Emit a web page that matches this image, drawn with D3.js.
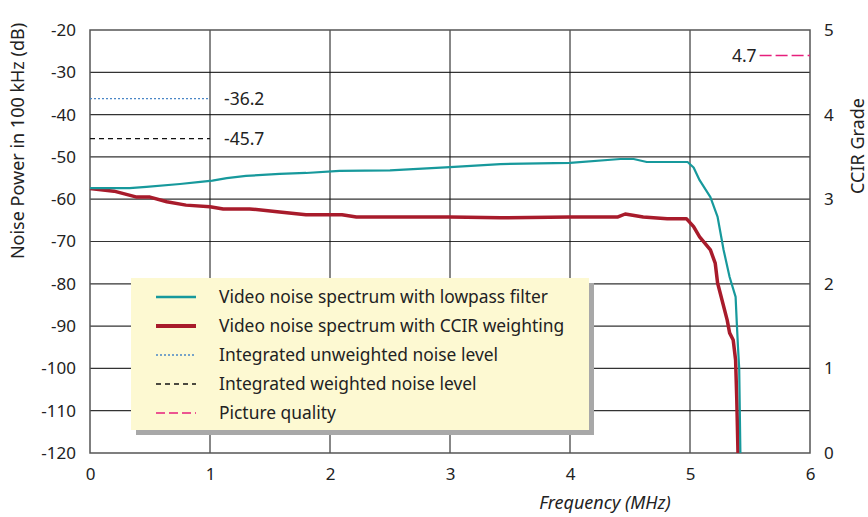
<!DOCTYPE html>
<html>
<head>
<meta charset="utf-8">
<script src="https://cdn.jsdelivr.net/npm/d3@7"></script>
<style>
  body { margin: 0; background: #fff; }
  text { font-family: "Noto Sans", sans-serif; fill: #222; }
</style>
</head>
<body>
<div id="chart"></div>
<script>
// lowpass filtered spectrum (MHz, dB)
var lowpassX = [0, 0.12, 0.33, 0.47, 0.75, 0.92, 1.02, 1.14, 1.3, 1.58, 1.8, 2.08, 2.5, 3.0, 3.42, 4.0, 4.42, 4.53, 4.64, 4.98, 5.03, 5.08, 5.17, 5.23, 5.28, 5.33, 5.38, 5.39, 5.4, 5.41, 5.42];
var lowpassY = [-57.4, -57.4, -57.4, -57.1, -56.4, -55.9, -55.6, -55.0, -54.5, -54.0, -53.8, -53.3, -53.2, -52.4, -51.7, -51.4, -50.5, -50.5, -51.2, -51.2, -52.5, -55.5, -59.5, -64.2, -72, -78.4, -83.1, -89.3, -95, -100, -120];

// CCIR weighted spectrum (MHz, dB)
var ccirX = [0, 0.2, 0.39, 0.5, 0.64, 0.8, 1.0, 1.11, 1.33, 1.58, 1.8, 2.1, 2.22, 3.0, 3.42, 4.0, 4.4, 4.46, 4.61, 4.81, 4.97, 5.03, 5.08, 5.17, 5.21, 5.23, 5.31, 5.33, 5.36, 5.38, 5.39, 5.4];
var ccirY = [-57.5, -58.1, -59.5, -59.5, -60.6, -61.4, -61.8, -62.3, -62.3, -63.0, -63.7, -63.7, -64.2, -64.2, -64.4, -64.2, -64.2, -63.5, -64.2, -64.6, -64.6, -66.5, -68.9, -72, -75.1, -79.8, -88.6, -91.6, -93.3, -98, -107.5, -120];

var unweightedLevel = "-36.2";
var weightedLevel = "-45.7";
var pictureQuality = "4.7";

var xTicks = [0, 1, 2, 3, 4, 5, 6];
var yTicks = [-20, -30, -40, -50, -60, -70, -80, -90, -100, -110, -120];
var gradeTicks = [0, 1, 2, 3, 4, 5];

var legendLabels = ["Video noise spectrum with lowpass filter", "Video noise spectrum with CCIR weighting", "Integrated unweighted noise level", "Integrated weighted noise level", "Picture quality"];

var TEAL = "#17999c", RED = "#a81b2b", BLUE = "#4a86c6", PINK = "#e61f7c";

var width = 868, height = 517;
var margin = {left: 90, right: 58, top: 30, bottom: 64};

var svg = d3.select("#chart").append("svg")
  .attr("width", width)
  .attr("height", height);

var x = d3.scaleLinear().domain([0, 6]).range([margin.left, width - margin.right]);
var y = d3.scaleLinear().domain([-120, -20]).range([height - margin.bottom, margin.top]);
var yGrade = d3.scaleLinear().domain([0, 5]).range([height - margin.bottom, margin.top]);

var plain = function(d){ return String(d); };

// grid
svg.append("g").selectAll("line")
  .data(yTicks.filter(function(d){ return d > -120 && d < -20; }))
  .enter().append("line")
    .attr("x1", x(0)).attr("x2", x(6))
    .attr("y1", function(d){ return y(d); }).attr("y2", function(d){ return y(d); })
    .attr("stroke", "#333").attr("stroke-width", 1.2);
svg.append("g").selectAll("line")
  .data(xTicks.filter(function(d){ return d > 0 && d < 6; }))
  .enter().append("line")
    .attr("x1", function(d){ return x(d); }).attr("x2", function(d){ return x(d); })
    .attr("y1", y(-20)).attr("y2", y(-120))
    .attr("stroke", "#111").attr("stroke-width", 1);

// frame
svg.append("rect")
  .attr("x", x(0)).attr("y", y(-20))
  .attr("width", x(6) - x(0)).attr("height", y(-120) - y(-20))
  .attr("fill", "none").attr("stroke", "#555").attr("stroke-width", 1.5);

// axes
var yAxis = svg.append("g")
  .attr("transform", "translate(" + x(0) + ",0)")
  .call(d3.axisLeft(y).tickValues(yTicks).tickFormat(plain).tickSize(0).tickPadding(14));
var gAxis = svg.append("g")
  .attr("transform", "translate(" + x(6) + ",0)")
  .call(d3.axisRight(yGrade).tickValues(gradeTicks).tickFormat(plain).tickSize(0).tickPadding(14));
var xAxis = svg.append("g")
  .attr("transform", "translate(0," + y(-120) + ")")
  .call(d3.axisBottom(x).tickValues(xTicks).tickFormat(plain).tickSize(0).tickPadding(15));
[yAxis, gAxis, xAxis].forEach(function(a){
  a.select(".domain").remove();
  a.selectAll("text").style("font-size", "17px").style("fill", "#222")
    .style("font-family", "'Noto Sans', sans-serif");
});

// axis titles
svg.append("text")
  .attr("transform", "translate(24,141) rotate(-90)")
  .attr("text-anchor", "middle")
  .style("font-size", "18px")
  .text("Noise Power in 100 kHz (dB)");
svg.append("text")
  .attr("transform", "translate(864,146) rotate(-90)")
  .attr("text-anchor", "middle")
  .style("font-size", "18px")
  .text("CCIR Grade");
svg.append("text")
  .attr("x", 605).attr("y", 509)
  .attr("text-anchor", "middle")
  .style("font-size", "18px").style("font-style", "italic")
  .text("Frequency (MHz)");

// integrated levels
svg.append("line")
  .attr("x1", x(0)).attr("x2", x(1))
  .attr("y1", y(+unweightedLevel)).attr("y2", y(+unweightedLevel))
  .attr("stroke", BLUE).attr("stroke-width", 1.3).attr("stroke-dasharray", "2,2");
svg.append("text")
  .attr("x", x(1) + 14).attr("y", y(+unweightedLevel)).attr("dy", "0.35em")
  .style("font-size", "17.5px").text(unweightedLevel);
svg.append("line")
  .attr("x1", x(0)).attr("x2", x(1))
  .attr("y1", y(+weightedLevel)).attr("y2", y(+weightedLevel))
  .attr("stroke", "#111").attr("stroke-width", 1.3).attr("stroke-dasharray", "5,4");
svg.append("text")
  .attr("x", x(1) + 14).attr("y", y(+weightedLevel)).attr("dy", "0.35em")
  .style("font-size", "17.5px").text(weightedLevel);

// picture quality
svg.append("line")
  .attr("x1", x(5.58)).attr("x2", x(6))
  .attr("y1", yGrade(+pictureQuality)).attr("y2", yGrade(+pictureQuality))
  .attr("stroke", PINK).attr("stroke-width", 1.5).attr("stroke-dasharray", "12,4");
svg.append("text")
  .attr("x", x(5.58) - 3).attr("y", yGrade(+pictureQuality)).attr("dy", "0.35em")
  .attr("text-anchor", "end")
  .style("font-size", "17.5px").text(pictureQuality);

// spectra
var line = d3.line()
  .x(function(d){ return x(d[0]); })
  .y(function(d){ return y(d[1]); });

svg.append("path")
  .datum(d3.zip(ccirX, ccirY))
  .attr("d", line)
  .attr("fill", "none").attr("stroke", RED).attr("stroke-width", 3.5)
  .attr("stroke-linejoin", "round");
svg.append("path")
  .datum(d3.zip(lowpassX, lowpassY))
  .attr("d", line)
  .attr("fill", "none").attr("stroke", TEAL).attr("stroke-width", 2.2)
  .attr("stroke-linejoin", "round");

// legend
var legend = svg.append("g").attr("transform", "translate(131,278)");
legend.append("rect")
  .attr("x", 5).attr("y", 5).attr("width", 458).attr("height", 152)
  .attr("fill", "#a8a8a8");
legend.append("rect")
  .attr("width", 458).attr("height", 152)
  .attr("fill", "#fdf9d2");

var keyStyles = [
  {stroke: TEAL, w: 2.5, dash: null},
  {stroke: RED, w: 4, dash: null},
  {stroke: BLUE, w: 1.3, dash: "2,2"},
  {stroke: "#111", w: 1.3, dash: "5,4"},
  {stroke: PINK, w: 1.5, dash: "9,4"}
];
var rows = legend.selectAll(".key")
  .data(legendLabels)
  .enter().append("g")
    .attr("class", "key")
    .attr("transform", function(d, i){ return "translate(0," + (19 + i * 29) + ")"; });
rows.append("line")
  .attr("x1", 25).attr("x2", 65)
  .attr("stroke", function(d, i){ return keyStyles[i].stroke; })
  .attr("stroke-width", function(d, i){ return keyStyles[i].w; })
  .attr("stroke-dasharray", function(d, i){ return keyStyles[i].dash; });
rows.append("text")
  .attr("x", 88).attr("dy", "0.35em")
  .style("font-size", "17.4px")
  .text(function(d){ return d; });
</script>
</body>
</html>
